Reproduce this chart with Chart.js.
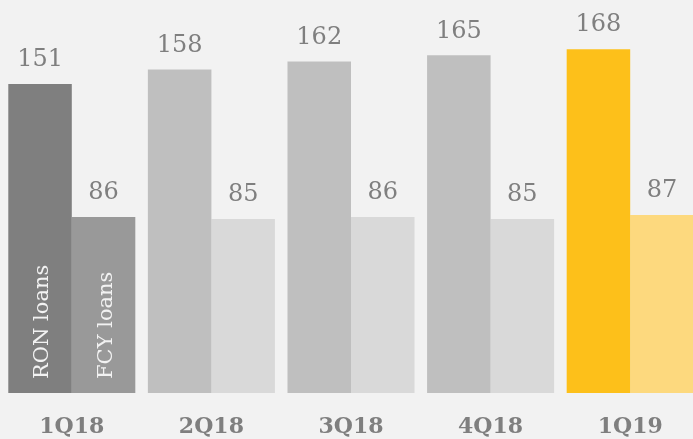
<!DOCTYPE html>
<html>
<head>
<meta charset="utf-8">
<script src="https://cdn.jsdelivr.net/npm/chart.js@4"></script>
<style>
  html, body { margin: 0; padding: 0; background: #f2f2f2; overflow: hidden; }
  #wrap { width: 700px; height: 439px; }
</style>
</head>
<body>
<div id="wrap"><canvas id="loans"></canvas></div>
<script>
const quarters = ["1Q18", "2Q18", "3Q18", "4Q18", "1Q19"];
const ronLoans = [151, 158, 162, 165, 168];
const fcyLoans = [86, 85, 86, 85, 87];
const seriesNames = ["RON loans", "FCY loans"];

const ronColors = ["#7f7f7f", "#bfbfbf", "#bfbfbf", "#bfbfbf", "#fdc01a"];
const fcyColors = ["#999999", "#d9d9d9", "#d9d9d9", "#d9d9d9", "#fdd97e"];

const SERIF = "'DejaVu Serif', 'Liberation Serif', serif";

// numbers above bars + rotated series names inside the first group
const barLabels = {
  id: "barLabels",
  afterDatasetsDraw(chart) {
    const ctx = chart.ctx;
    ctx.save();
    chart.data.datasets.forEach((ds, di) => {
      const meta = chart.getDatasetMeta(di);
      meta.data.forEach((bar, i) => {
        ctx.fillStyle = "#7f7f7f";
        ctx.font = "24px " + SERIF;
        ctx.textAlign = "center";
        ctx.textBaseline = "bottom";
        ctx.fillText(ds.data[i], bar.x, bar.y - 12);
      });
      const first = meta.data[0];
      ctx.save();
      ctx.translate(first.x + 3, first.base - 14);
      ctx.rotate(-Math.PI / 2);
      ctx.fillStyle = "#f2f2f2";
      ctx.font = "21px " + SERIF;
      ctx.textAlign = "left";
      ctx.textBaseline = "middle";
      ctx.fillText(seriesNames[di], 0, 0);
      ctx.restore();
    });
    ctx.restore();
  }
};

new Chart(document.getElementById("loans"), {
  type: "bar",
  data: {
    labels: quarters,
    datasets: [
      { label: seriesNames[0], data: ronLoans, backgroundColor: ronColors },
      { label: seriesNames[1], data: fcyLoans, backgroundColor: fcyColors }
    ]
  },
  options: {
    responsive: true,
    maintainAspectRatio: false,
    animation: false,
    layout: { padding: { left: 2, right: 0, top: 0, bottom: 0 } },
    datasets: {
      bar: { categoryPercentage: 0.91, barPercentage: 1, borderWidth: 0 }
    },
    plugins: {
      legend: { display: false },
      tooltip: { enabled: false }
    },
    scales: {
      x: {
        grid: { display: false, drawTicks: false },
        border: { display: false },
        ticks: {
          color: "#7f7f7f",
          padding: 21,
          font: { family: SERIF, size: 22, weight: "bold" }
        },
        afterFit(scale) { scale.height = 46; }
      },
      y: {
        display: false,
        min: 0,
        max: 192
      }
    }
  },
  plugins: [barLabels]
});
</script>
</body>
</html>
